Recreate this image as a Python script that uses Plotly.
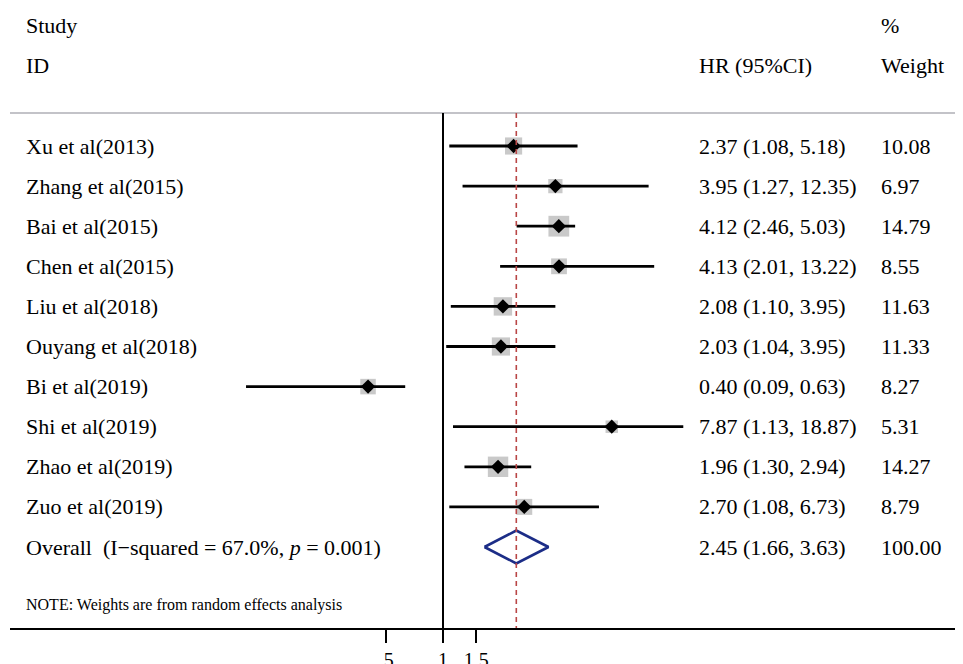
import math
import plotly.graph_objects as go

studies = ["Xu et al(2013)", "Zhang et al(2015)", "Bai et al(2015)", "Chen et al(2015)",
           "Liu et al(2018)", "Ouyang et al(2018)", "Bi et al(2019)", "Shi et al(2019)",
           "Zhao et al(2019)", "Zuo et al(2019)"]
hr = [2.37, 3.95, 4.12, 4.13, 2.08, 2.03, 0.40, 7.87, 1.96, 2.70]
lo = [1.08, 1.27, 2.46, 2.01, 1.10, 1.04, 0.09, 1.13, 1.30, 1.08]
hi = [5.18, 12.35, 5.03, 13.22, 3.95, 3.95, 0.63, 18.87, 2.94, 6.73]
weights = [10.08, 6.97, 14.79, 8.55, 11.63, 11.33, 8.27, 5.31, 14.27, 8.79]

overall_label = "Overall  (I\u2212squared = 67.0%, <i>p</i> = 0.001)"
overall_hr, overall_lo, overall_hi, overall_w = 2.45, 1.66, 3.63, 100.00
note = "NOTE: Weights are from random effects analysis"
tick_vals = [0.5, 1, 1.5]
tick_text = [".5", "1", "1.5"]

FONT = "Liberation Serif, Times New Roman, serif"
n = len(studies)
rows = list(range(n))
overall_row = n

OFF = 8            # page body margin
FW, FH = 963 - OFF, 664 - OFF
L_REF = 10         # left end of plot area in reference pixels
W = 963 - L_REF

def px(p):
    return (p - L_REF) / W

fig = go.Figure()

cx, cy = [], []
for i in rows:
    cx += [lo[i], hi[i], None]
    cy += [i, i, None]

fig.add_trace(go.Scatter(x=hr, y=rows, mode="markers",
                         marker=dict(symbol="square", color="rgb(178,178,178)",
                                     size=[5.4 * math.sqrt(w) for w in weights], line=dict(width=0)),
                         hoverinfo="skip", showlegend=False))
fig.add_trace(go.Scatter(x=cx, y=cy, mode="lines", line=dict(color="black", width=2.8),
                         hoverinfo="skip", showlegend=False))
fig.add_trace(go.Scatter(x=hr, y=rows, mode="markers",
                         marker=dict(symbol="diamond", color="black", size=11),
                         hoverinfo="skip", showlegend=False))

h = 0.41
fig.add_trace(go.Scatter(x=[overall_lo, overall_hr, overall_hi, overall_hr, overall_lo],
                         y=[overall_row, overall_row - h, overall_row, overall_row + h, overall_row],
                         mode="lines", line=dict(color="rgb(28,45,135)", width=2.6),
                         hoverinfo="skip", showlegend=False))

# row geometry in reference pixels: row i at 146 + 40.1*i
r0, dr = 146.0, 40.1
def yrow(p):
    return (p - r0) / dr

ytop = yrow(0 + OFF)
ybot = yrow(628)
top = yrow(113)

shapes = [
    dict(type="line", xref="paper", yref="y", x0=0, x1=1, y0=top, y1=top,
         line=dict(color="rgb(195,195,200)", width=2)),
    dict(type="line", xref="x", yref="y", x0=1, x1=1, y0=top, y1=ybot,
         line=dict(color="black", width=2)),
    dict(type="line", xref="x", yref="y", x0=overall_hr, x1=overall_hr, y0=top, y1=ybot,
         line=dict(color="rgb(185,70,70)", width=1.6, dash="5px,4px")),
]

ann = []
fs = 22
def add(text, x, y, size=fs):
    ann.append(dict(text=text, x=x, y=y, xref="paper", yref="y", xanchor="left",
                    yanchor="middle", showarrow=False, font=dict(family=FONT, size=size, color="black")))

cs, ch, cw = px(24), px(697), px(879)
add("Study", cs, yrow(25))
add("ID", cs, yrow(65))
add("HR (95%CI)", ch, yrow(65))
add("%", cw, yrow(25))
add("Weight", cw, yrow(65))
for i in rows:
    add(studies[i], cs, i)
    add(f"{hr[i]:.2f} ({lo[i]:.2f}, {hi[i]:.2f})", ch, i)
    add(f"{weights[i]:.2f}", cw, i)
add(overall_label, cs, overall_row)
add(f"{overall_hr:.2f} ({overall_lo:.2f}, {overall_hi:.2f})", ch, overall_row)
add(f"{overall_w:.2f}", cw, overall_row)
add(note, cs, yrow(605), size=16)

a, b = 443, 81.8
xl = (L_REF - a) / b / math.log(10)
xr = (963 - a) / b / math.log(10)

fig.update_layout(
    width=FW, height=FH,
    margin=dict(l=L_REF - OFF, r=0, t=0, b=FH - (628 - OFF), autoexpand=False),
    paper_bgcolor="white", plot_bgcolor="white",
    shapes=shapes, annotations=ann,
    xaxis=dict(type="log", range=[xl, xr], tickvals=tick_vals, ticktext=tick_text,
               showline=True, linecolor="black", linewidth=2, ticks="outside",
               ticklen=13, tickwidth=2, tickcolor="black", showgrid=False, zeroline=False,
               tickfont=dict(family=FONT, size=20, color="black"), automargin=False,
               fixedrange=True),
    yaxis=dict(range=[ybot, ytop], visible=False, showgrid=False, zeroline=False,
               fixedrange=True),
)

fig.write_html("out.html", config={"displayModeBar": False})
